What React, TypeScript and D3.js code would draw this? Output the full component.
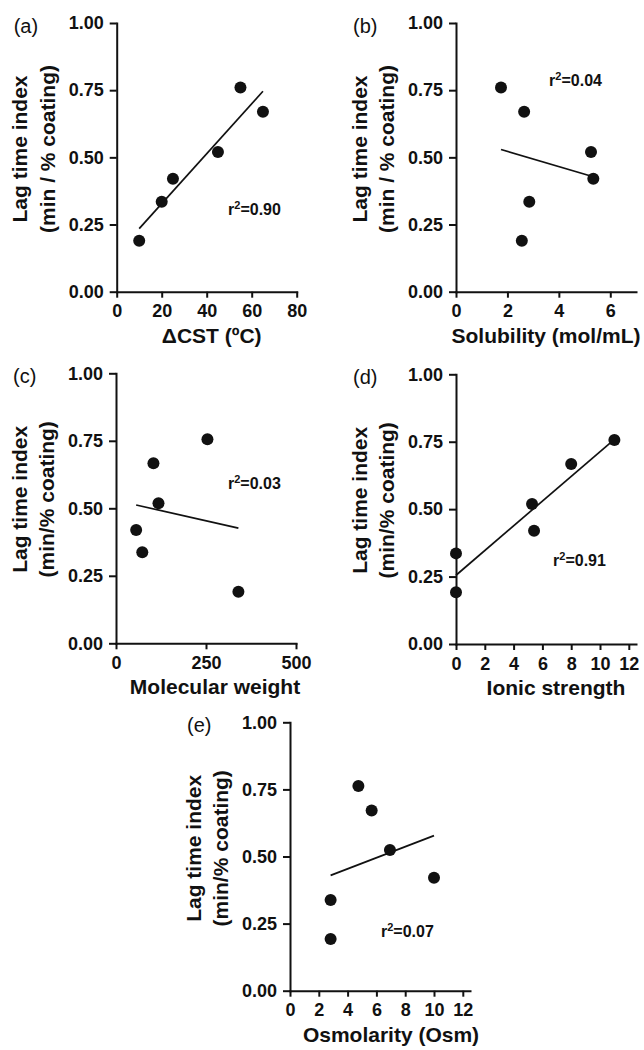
import React, { useEffect, useRef } from "react";
import * as d3 from "d3";

// six coatings, lag time index (min / % coating) against each property
const cstX = [10, 20, 25, 45, 55, 65];
const cstY = [0.19, 0.335, 0.42, 0.52, 0.76, 0.67];
const solX = [1.75, 2.65, 2.56, 2.85, 5.25, 5.34];
const solY = [0.76, 0.67, 0.19, 0.335, 0.52, 0.42];
const mwX = [56, 73, 104, 118, 254, 340];
const mwY = [0.42, 0.337, 0.667, 0.519, 0.756, 0.191];
const ionX = [0, 0, 5.28, 5.42, 8, 11];
const ionY = [0.336, 0.192, 0.519, 0.42, 0.667, 0.756];
const osmX = [2.82, 2.82, 4.75, 5.67, 6.94, 10];
const osmY = [0.338, 0.193, 0.763, 0.671, 0.524, 0.421];

const yTicks = [0, 0.25, 0.5, 0.75, 1];
const r2Values = ["0.90", "0.04", "0.03", "0.91", "0.07"];

const FONT = "'Liberation Sans', Arial, Helvetica, sans-serif";

const panels = [
  { tag: "(a)", xs: cstX, ys: cstY, xMax: 80, xTicks: [0, 20, 40, 60, 80], xTitle: "\u0394CST (\u00baC)", yTitle: "(min / % coating)", r2: r2Values[0], r2At: [49.5, 0.285], left: 116.7, top: 23, bottom: 291.7, shift: 5 },
  { tag: "(b)", xs: solX, ys: solY, xMax: 7, xTicks: [0, 2, 4, 6], xTitle: "Solubility (mol/mL)", yTitle: "(min / % coating)", r2: r2Values[1], r2At: [3.62, 0.766], left: 456, top: 23, bottom: 291.7, shift: 0 },
  { tag: "(c)", xs: mwX, ys: mwY, xMax: 500, xTicks: [0, 250, 500], xTitle: "Molecular weight", yTitle: "(min/% coating)", r2: r2Values[2], r2At: [311, 0.571], left: 116, top: 373.3, bottom: 643.3, shift: 9 },
  { tag: "(d)", xs: ionX, ys: ionY, xMax: 12.5, xTicks: [0, 2, 4, 6, 8, 10, 12], xTitle: "Ionic strength", yTitle: "(min/% coating)", r2: r2Values[3], r2At: [6.74, 0.289], left: 456, top: 374.3, bottom: 644, shift: 10 },
  { tag: "(e)", xs: osmX, ys: osmY, xMax: 12.5, xTicks: [0, 2, 4, 6, 8, 10, 12], xTitle: "Osmolarity (Osm)", yTitle: "(min/% coating)", r2: r2Values[4], r2At: [6.32, 0.2], left: 290, top: 722.3, bottom: 990.7, shift: 11 },
];

// least squares fit, drawn over the span of the x values
const fit = (xs, ys) => {
  const mx = d3.mean(xs);
  const my = d3.mean(ys);
  const sxy = d3.sum(xs, (x, i) => (x - mx) * (ys[i] - my));
  const sxx = d3.sum(xs, x => (x - mx) * (x - mx));
  const b = sxy / sxx;
  const [x0, x1] = d3.extent(xs);
  return [
    [x0, my + b * (x0 - mx)],
    [x1, my + b * (x1 - mx)],
  ];
};

const App = () => {
  const ref = useRef(null);

  useEffect(() => {
    const svg = d3.select(ref.current);
    svg.selectAll("*").remove();

    panels.forEach(p => {
      const g = svg.append("g");
      const x = d3.scaleLinear().domain([0, p.xMax]).range([p.left, p.left + 180]);
      const y = d3.scaleLinear().domain([0, 1]).range([p.bottom, p.top]);

      const gy = g
        .append("g")
        .attr("transform", `translate(${p.left},0)`)
        .call(
          d3.axisLeft(y).tickValues(yTicks).tickFormat(d3.format(".2f")).tickSize(7).tickPadding(6).tickSizeOuter(0)
        );
      const gx = g
        .append("g")
        .attr("transform", `translate(0,${p.bottom})`)
        .call(
          d3.axisBottom(x).tickValues(p.xTicks).tickFormat(d3.format("d")).tickSize(6).tickPadding(7).tickSizeOuter(0)
        );
      [gy, gx].forEach(a => {
        a.select(".domain").attr("stroke", "#111").attr("stroke-width", 2).attr("stroke-linecap", "square");
        a.selectAll(".tick line").attr("stroke", "#111").attr("stroke-width", 2);
        a.selectAll(".tick text")
          .attr("fill", "#111")
          .style("font-family", FONT)
          .style("font-size", "18px")
          .style("font-weight", "bold");
      });

      // regression line
      const [[x0, y0], [x1, y1]] = fit(p.xs, p.ys);
      g.append("line")
        .attr("x1", x(x0))
        .attr("y1", y(y0))
        .attr("x2", x(x1))
        .attr("y2", y(y1))
        .attr("stroke", "#111")
        .attr("stroke-width", 1.7);

      g.selectAll("circle")
        .data(p.xs.map((v, i) => [v, p.ys[i]]))
        .enter()
        .append("circle")
        .attr("cx", d => x(d[0]))
        .attr("cy", d => y(d[1]))
        .attr("r", 6)
        .attr("fill", "#111");

      // r squared annotation
      const r2 = g
        .append("text")
        .attr("x", x(p.r2At[0]))
        .attr("y", y(p.r2At[1]))
        .attr("fill", "#111")
        .style("font-family", FONT)
        .style("font-size", "16px")
        .style("font-weight", "bold");
      r2.append("tspan").text("r");
      r2.append("tspan").attr("dy", -6).style("font-size", "11px").text("2");
      r2.append("tspan").attr("dy", 6).text("=" + p.r2);

      // panel tag
      g.append("text")
        .attr("x", p.left - 103)
        .attr("y", p.top + 10)
        .attr("fill", "#111")
        .style("font-family", FONT)
        .style("font-size", "20px")
        .text(p.tag);

      // axis titles
      const cy = p.top + 126;
      [["Lag time index", 89.5], [p.yTitle, 62]].forEach(([t, off]) => {
        g.append("text")
          .attr("transform", `translate(${p.left - off},${cy}) rotate(-90)`)
          .attr("text-anchor", "middle")
          .attr("fill", "#111")
          .style("font-family", FONT)
          .style("font-size", "21px")
          .style("font-weight", "bold")
          .text(t);
      });
      g.append("text")
        .attr("x", p.left + 90 + p.shift)
        .attr("y", p.bottom + 51)
        .attr("text-anchor", "middle")
        .attr("fill", "#111")
        .style("font-family", FONT)
        .style("font-size", "21px")
        .style("font-weight", "bold")
        .text(p.xTitle);
    });
  }, []);

  return (
    <svg
      ref={ref}
      width={644}
      height={1050}
      style={{ position: "absolute", left: 0, top: 0, background: "#fff" }}
    ></svg>
  );
};

export default App;
